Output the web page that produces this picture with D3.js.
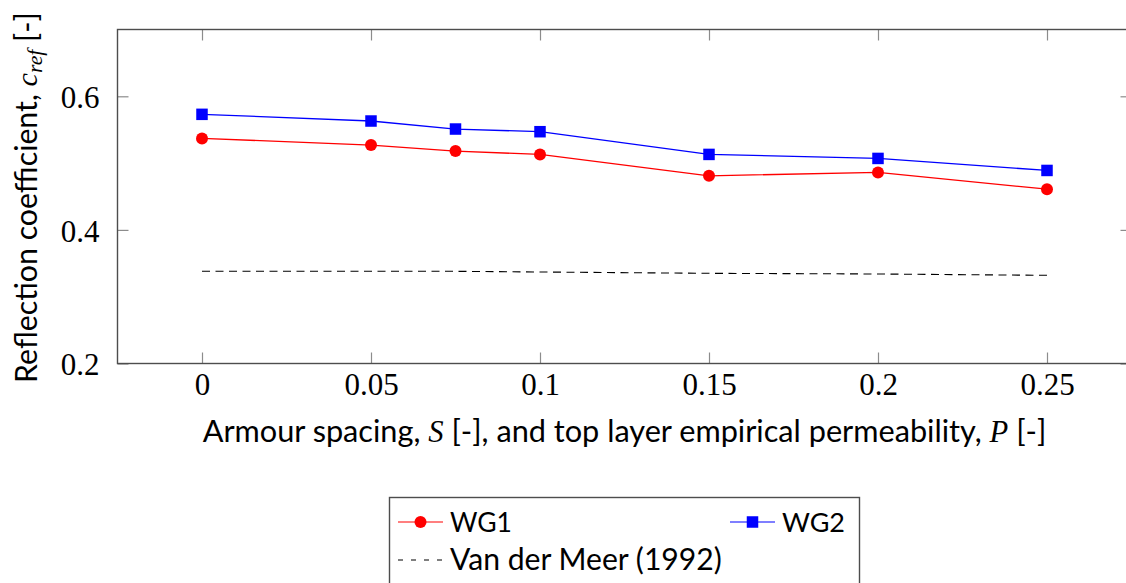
<!DOCTYPE html>
<html>
<head>
<meta charset="utf-8">
<script src="https://cdn.jsdelivr.net/npm/d3@7"></script>
<style>
  html, body { margin: 0; padding: 0; background: #fff; }
  svg { display: block; }
</style>
</head>
<body>
<svg id="svgRoot" width="1126" height="583"></svg>
<script>
// values
const spacing = [0, 0.05, 0.075, 0.1, 0.15, 0.2, 0.25];
const wg1 = [0.537, 0.527, 0.518, 0.513, 0.481, 0.486, 0.461];
const wg2 = [0.573, 0.563, 0.551, 0.547, 0.513, 0.507, 0.489];
const vanDerMeer = [0.338, 0.338, 0.338, 0.337, 0.335, 0.334, 0.332];
const xTicks = [0, 0.05, 0.1, 0.15, 0.2, 0.25];
const yTicks = [0.2, 0.4, 0.6];

const serif = '"Liberation Serif", "DejaVu Serif", serif';
const sans = 'Lato, "Liberation Sans", Arial, sans-serif';

const plot = { left: 117.5, right: 1131.5, top: 29.5, bottom: 363.5 };

const svg = d3.select('#svgRoot');

const x = d3.scaleLinear().domain([-0.025, 0.275]).range([plot.left, plot.right]);
const y = d3.scaleLinear().domain([0.2, 0.7]).range([plot.bottom, plot.top]);

// stretch/shrink a text's font size so it covers a given width
const fitWidth = (sel, width) => {
  const node = sel.node();
  const fs = parseFloat(sel.style('font-size'));
  const len = node.getComputedTextLength();
  sel.style('font-size', (fs * width / len) + 'px');
};

const fmt = (d) => String(+d.toFixed(3));

// ticks (inside, on all four sides)
const tickColor = '#8c8c8c';
const tickLen = 11;

const bottomAxis = svg.append('g')
  .attr('transform', `translate(0,${plot.bottom})`)
  .call(d3.axisBottom(x).tickValues(xTicks).tickSize(-tickLen).tickFormat(fmt));
const topAxis = svg.append('g')
  .attr('transform', `translate(0,${plot.top})`)
  .call(d3.axisTop(x).tickValues(xTicks).tickSize(-tickLen).tickFormat(''));
const leftAxis = svg.append('g')
  .attr('transform', `translate(${plot.left},0)`)
  .call(d3.axisLeft(y).tickValues(yTicks).tickSize(-tickLen).tickFormat(fmt));
const rightAxis = svg.append('g')
  .attr('transform', `translate(${plot.right},0)`)
  .call(d3.axisRight(y).tickValues(yTicks).tickSize(-tickLen).tickFormat(''));

[bottomAxis, topAxis, leftAxis, rightAxis].forEach((g) => {
  g.select('.domain').remove();
  g.selectAll('.tick line').attr('stroke', tickColor).attr('stroke-width', 1.2);
});

bottomAxis.selectAll('.tick text')
  .attr('y', 31.5)
  .attr('dy', null)
  .attr('fill', '#000')
  .style('font-family', serif)
  .style('font-size', '31px');

leftAxis.selectAll('.tick text')
  .attr('x', -18)
  .attr('dy', '0.36em')
  .attr('fill', '#000')
  .style('font-family', serif)
  .style('font-size', '31px');

// frame
svg.append('rect')
  .attr('x', plot.left)
  .attr('y', plot.top)
  .attr('width', plot.right - plot.left)
  .attr('height', plot.bottom - plot.top)
  .attr('fill', 'none')
  .attr('stroke', '#4d4d4d')
  .attr('stroke-width', 1.4);

// series
const line = (vals) => d3.line()
  .x((d, i) => x(spacing[i]))
  .y((d) => y(d))(vals);

svg.append('path')
  .attr('d', line(vanDerMeer))
  .attr('fill', 'none')
  .attr('stroke', '#000')
  .attr('stroke-width', 1.1)
  .attr('stroke-dasharray', '8,5.5');

svg.append('path')
  .attr('d', line(wg1))
  .attr('fill', 'none')
  .attr('stroke', '#ff0000')
  .attr('stroke-width', 1.3);

svg.append('path')
  .attr('d', line(wg2))
  .attr('fill', 'none')
  .attr('stroke', '#0000ff')
  .attr('stroke-width', 1.3);

svg.append('g').selectAll('circle')
  .data(wg1)
  .join('circle')
  .attr('cx', (d, i) => x(spacing[i]))
  .attr('cy', (d) => y(d))
  .attr('r', 6)
  .attr('fill', '#ff0000');

const sq = 11.5;
svg.append('g').selectAll('rect')
  .data(wg2)
  .join('rect')
  .attr('x', (d, i) => x(spacing[i]) - sq / 2)
  .attr('y', (d) => y(d) - sq / 2)
  .attr('width', sq)
  .attr('height', sq)
  .attr('fill', '#0000ff');

// axis labels
const xLabel = svg.append('text')
  .attr('x', (plot.left + plot.right) / 2)
  .attr('y', 442)
  .attr('text-anchor', 'middle')
  .style('font-family', sans)
  .style('font-size', '30px');
xLabel.append('tspan').text('Armour spacing, ');
xLabel.append('tspan').style('font-family', serif).style('font-style', 'italic').text('S');
xLabel.append('tspan').text(' [-], and top layer empirical permeability, ');
xLabel.append('tspan').style('font-family', serif).style('font-style', 'italic').text('P');
xLabel.append('tspan').text(' [-]');
fitWidth(xLabel, 844);

const yLabel = svg.append('text')
  .attr('transform', `translate(37,${(plot.top + plot.bottom) / 2 + 1}) rotate(-90)`)
  .attr('text-anchor', 'middle')
  .style('font-family', sans)
  .style('font-size', '30px');
yLabel.append('tspan').text('Reflection coefficient, ');
yLabel.append('tspan').style('font-family', serif).style('font-style', 'italic').text('c');
yLabel.append('tspan').attr('dy', 5).style('font-family', serif).style('font-style', 'italic')
  .style('font-size', '0.72em').text('ref');
yLabel.append('tspan').attr('dy', -5).text(' [-]');
fitWidth(yLabel, 371);

// legend
const legend = svg.append('g');
legend.append('rect')
  .attr('x', 389.5)
  .attr('y', 497.5)
  .attr('width', 470)
  .attr('height', 120)
  .attr('fill', '#fff')
  .attr('stroke', '#4d4d4d')
  .attr('stroke-width', 1.4);

const legendItems = [
  { name: 'WG1', color: '#ff0000', shape: 'circle', lx: 398, ly: 522, textWidth: 62 },
  { name: 'WG2', color: '#0000ff', shape: 'square', lx: 730, ly: 522, textWidth: 63 },
  { name: 'Van der Meer (1992)', color: '#000', shape: 'dash', lx: 398, ly: 560, textWidth: 272 }
];

legendItems.forEach((item) => {
  const g = legend.append('g');
  g.append('line')
    .attr('x1', item.lx)
    .attr('x2', item.lx + 45)
    .attr('y1', item.ly)
    .attr('y2', item.ly)
    .attr('stroke', item.color)
    .attr('stroke-width', 1.2)
    .attr('stroke-dasharray', item.shape === 'dash' ? '5,8' : null);
  if (item.shape === 'circle') {
    g.append('circle').attr('cx', item.lx + 22.5).attr('cy', item.ly).attr('r', 6).attr('fill', item.color);
  } else if (item.shape === 'square') {
    g.append('rect').attr('x', item.lx + 22.5 - sq / 2).attr('y', item.ly - sq / 2)
      .attr('width', sq).attr('height', sq).attr('fill', item.color);
  }
  const t = g.append('text')
    .attr('x', item.lx + 52)
    .attr('y', item.ly + 10)
    .style('font-family', sans)
    .style('font-size', '29px')
    .text(item.name);
  fitWidth(t, item.textWidth);
});
</script>
</body>
</html>
